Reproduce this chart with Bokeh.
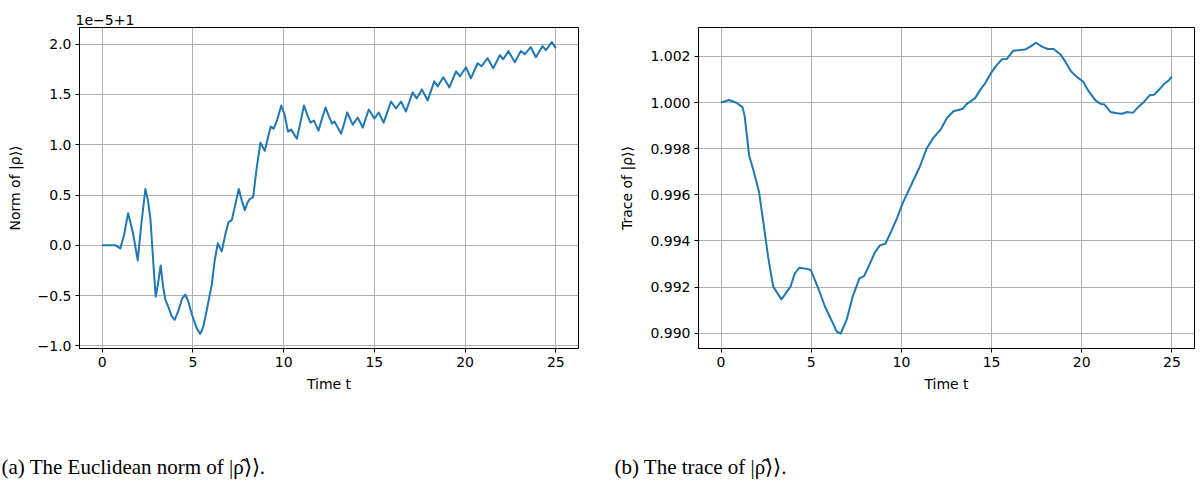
from bokeh.plotting import figure
from bokeh.layouts import row, column
from bokeh.models import Range1d, FixedTicker, CustomJSTickFormatter
from bokeh.core.properties import value
from bokeh.embed import file_html
from bokeh.resources import INLINE

# ---------------- data ----------------
x_ticks = [0, 5, 10, 15, 20, 25]
norm_y_ticks = [-1.0, -0.5, 0.0, 0.5, 1.0, 1.5, 2.0]
trace_y_ticks = [0.990, 0.992, 0.994, 0.996, 0.998, 1.000, 1.002]

# deviation of the norm from 1, in units of 1e-5
t_norm = [0, 0.4, 0.73, 1.0, 1.2, 1.43, 1.7, 1.96, 2.15, 2.38, 2.52, 2.66, 2.84, 2.95,
          3.08, 3.22, 3.35, 3.48, 3.66, 3.82, 3.99, 4.2, 4.4, 4.58, 4.75, 4.95, 5.2, 5.40,
          5.55, 5.68, 6.04, 6.2, 6.37, 6.59, 6.8, 6.96, 7.14, 7.33, 7.53, 7.7, 7.86, 8.0,
          8.13, 8.32, 8.5, 8.72, 8.96, 9.12, 9.29, 9.45, 9.65, 9.87, 10.05, 10.24, 10.42,
          10.73, 10.9, 11.12, 11.3, 11.48, 11.67, 11.92, 12.1, 12.31, 12.5, 12.67, 12.8,
          13.17, 13.35, 13.50, 13.81, 14.08, 14.36, 14.69, 15.0, 15.24, 15.51, 15.92, 16.19,
          16.47, 16.74, 17.11, 17.33, 17.62, 17.94, 18.30, 18.49, 18.80, 19.13, 19.50, 19.72,
          20.05, 20.32, 20.69, 20.91, 21.24, 21.55, 21.92, 22.10, 22.39, 22.74, 23.07, 23.29,
          23.62, 23.90, 24.27, 24.45, 24.78, 25.0]
norm_dev_1e5 = [0, 0, 0, -0.03, 0.10, 0.32, 0.12, -0.15, 0.20, 0.56, 0.45, 0.26, -0.23, -0.51,
                -0.38, -0.20, -0.40, -0.54, -0.62, -0.70, -0.74, -0.65, -0.53, -0.49, -0.56, -0.69,
                -0.82, -0.88, -0.82, -0.72, -0.39, -0.15, 0.02, -0.06, 0.12, 0.23, 0.25, 0.40,
                0.56, 0.44, 0.35, 0.42, 0.46, 0.48, 0.75, 1.02, 0.94, 1.06, 1.18, 1.16, 1.25,
                1.39, 1.30, 1.13, 1.15, 1.06, 1.20, 1.39, 1.30, 1.22, 1.24, 1.14, 1.25, 1.37,
                1.28, 1.21, 1.23, 1.11, 1.22, 1.32, 1.20, 1.27, 1.17, 1.35, 1.26, 1.32, 1.22,
                1.43, 1.36, 1.43, 1.33, 1.52, 1.46, 1.55, 1.44, 1.63, 1.58, 1.67, 1.57, 1.73,
                1.68, 1.77, 1.66, 1.81, 1.78, 1.86, 1.76, 1.89, 1.85, 1.93, 1.82, 1.93, 1.90,
                1.97, 1.87, 1.98, 1.94, 2.02, 1.96]

t_trace = [0, 0.44, 0.85, 1.19, 1.31, 1.56, 1.78, 2.11, 2.33, 2.61, 2.89, 3.35, 3.85, 4.09,
           4.33, 4.78, 4.98, 5.39, 5.76, 6.07, 6.41, 6.63, 6.96, 7.30, 7.67, 7.93, 8.17, 8.54,
           8.81, 9.11, 9.46, 9.74, 10.07, 10.57, 11.04, 11.41, 11.78, 12.2, 12.52, 12.89,
           13.41, 13.63, 14.09, 14.37, 14.65, 14.96, 15.30, 15.57, 15.85, 16.19, 16.59, 16.87,
           17.15, 17.46, 17.80, 18.11, 18.44, 18.81, 19.09, 19.41, 19.74, 20.07, 20.39, 20.76,
           21.04, 21.26, 21.59, 21.96, 22.24, 22.52, 22.83, 23.17, 23.44, 23.76, 24.0, 24.28,
           24.56, 24.80, 25.0]
trace_vals = [1.00000, 1.00011, 0.99999, 0.99980, 0.99941, 0.99769, 0.99711, 0.99611, 0.99489,
              0.99331, 0.99202, 0.99147, 0.99202, 0.99259, 0.99284, 0.99279, 0.99274, 0.99195,
              0.99116, 0.99065, 0.99008, 0.98998, 0.99058, 0.99159, 0.99238, 0.99248, 0.99288,
              0.99352, 0.99381, 0.99388, 0.99446, 0.99496, 0.99564, 0.99647, 0.99726, 0.99802,
              0.99848, 0.99886, 0.99933, 0.99962, 0.99973, 0.99994, 1.00019, 1.00055, 1.00084,
              1.00127, 1.00163, 1.00187, 1.00189, 1.00224, 1.00227, 1.00230, 1.00242, 1.00259,
              1.00242, 1.00232, 1.00232, 1.00209, 1.00177, 1.00134, 1.00110, 1.00091, 1.00048,
              1.00009, 0.99994, 0.99991, 0.99959, 0.99953, 0.99951, 0.99959, 0.99955, 0.99983,
              1.00002, 1.00031, 1.00034, 1.00055, 1.00080, 1.00094, 1.00113]

caption_a = "(a) The Euclidean norm of |\u03c1\u0302\u27e9\u27e9."
caption_b = "(b) The trace of |\u03c1\u0302\u27e9\u27e9."

# ---------------- styling ----------------
FONT = "DejaVu Sans"
FS = "14px"
LINE_COLOR = "#1f77b4"
GRID_COLOR = "#b0b0b0"


def style(p, ylabel, yticks, ydigits):
    p.outline_line_color = "black"
    p.outline_line_width = 1
    p.grid.grid_line_color = GRID_COLOR
    p.grid.grid_line_width = 1
    p.xaxis.ticker = FixedTicker(ticks=x_ticks)
    p.yaxis.ticker = FixedTicker(ticks=yticks)
    p.xaxis.formatter = CustomJSTickFormatter(code="return tick.toFixed(0).replace('-', '\u2212');")
    p.yaxis.formatter = CustomJSTickFormatter(
        code="return tick.toFixed(%d).replace('-', '\u2212');" % ydigits)
    for ax in (p.xaxis[0], p.yaxis[0]):
        ax.axis_line_color = "black"
        ax.major_tick_line_color = "black"
        ax.major_tick_out = 4
        ax.major_tick_in = 0
        ax.minor_tick_line_color = None
        ax.major_label_text_font = FONT
        ax.major_label_text_font_size = FS
        ax.major_label_text_color = "black"
        ax.major_label_standoff = 4
        ax.axis_label_text_font = FONT
        ax.axis_label_text_font_size = FS
        ax.axis_label_text_font_style = "normal"
        ax.axis_label_text_color = "black"
    p.xaxis.axis_label = "Time t"
    p.xaxis.axis_label_standoff = 6
    p.yaxis.axis_label = ylabel
    p.yaxis.axis_label_standoff = 12


# ---------------- left figure ----------------
p1 = figure(width=600, height=430, output_backend="svg", toolbar_location=None,
            x_range=Range1d(-1.25, 26.25), y_range=Range1d(-1.025, 2.165),
            min_border_left=79, min_border_right=22, min_border_top=22, min_border_bottom=82)
p1.title.text = "1e\u22125+1"
p1.title.align = "left"
p1.title.text_font = FONT
p1.title.text_font_size = FS
p1.title.text_font_style = "normal"
p1.title.text_color = "black"
p1.title.offset = -4
p1.title.standoff = 5
style(p1, "Norm of |\u03c1\u27e9\u27e9", norm_y_ticks, 1)
p1.line(t_norm, norm_dev_1e5, line_color=LINE_COLOR, line_width=2, line_join="round")

# ---------------- right figure ----------------
p2 = figure(width=602, height=430, output_backend="svg", toolbar_location=None,
            x_range=Range1d(-1.25, 26.25), y_range=Range1d(0.98934, 1.00325),
            min_border_left=98, min_border_right=8, min_border_top=27, min_border_bottom=82)
style(p2, "Trace of |\u03c1\u27e9\u27e9", trace_y_ticks, 3)
p2.line(t_trace, trace_vals, line_color=LINE_COLOR, line_width=2, line_join="round")

# ---------------- captions ----------------
cap = figure(width=1202, height=52, output_backend="svg", toolbar_location=None,
             x_range=Range1d(0, 1202), y_range=Range1d(0, 52),
             min_border=0, outline_line_color=None)
cap.axis.visible = False
cap.grid.visible = False
cap.text(x=[1, 614], y=[16, 16], text=[caption_a, caption_b],
         text_font=value("Liberation Serif"), text_font_size="21px",
         text_color="black", text_baseline="alphabetic", text_align="left")

layout = column(row(p1, p2), cap)
open("out.html", "w").write(file_html(layout, INLINE))
